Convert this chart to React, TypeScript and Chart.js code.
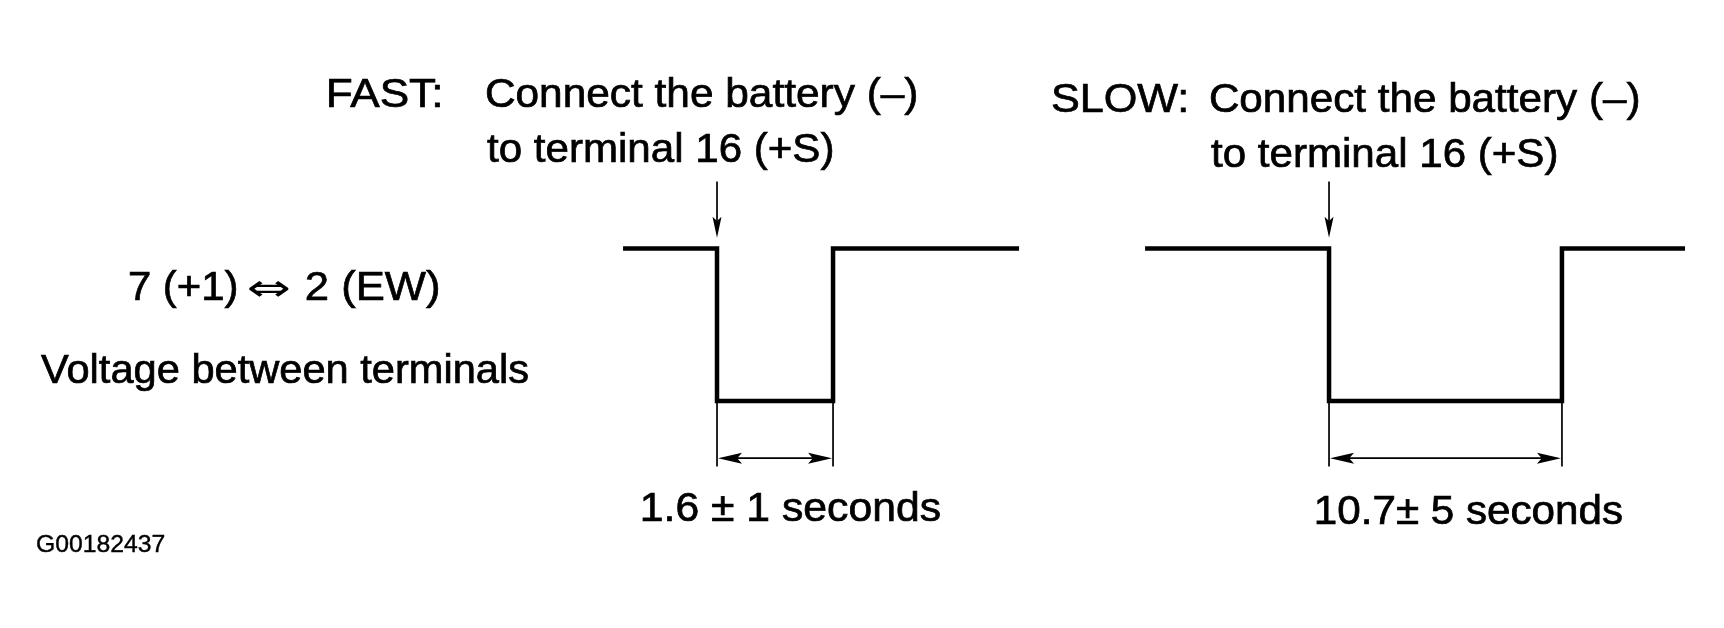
import React, { useEffect, useRef } from "react";
import { Chart, registerables } from "chart.js";

Chart.register(...registerables);

// ---------------- data ----------------
// Horizontal position is expressed in % of the figure width (schematic time axis),
// vertical value is the logic level (1 = high, 0 = low).
const traceNames = ["FAST", "SLOW"];
const fastPos = [36.14, 41.59, 41.59, 48.32, 48.32, 59.11];
const fastLevel = [1, 1, 0, 0, 1, 1];
const slowPos = [66.42, 77.09, 77.09, 90.6, 90.6, 97.74];
const slowLevel = [1, 1, 0, 0, 1, 1];
const durationText = ["1.6 ± 1 seconds", "10.7± 5 seconds"];
const instructionLines = ["Connect the battery (–)", "to terminal 16 (+S)"];
const terminalParts = ["7 (+1)", "⇔", "2 (EW)"];
const measureText = "Voltage between terminals";
const figureId = "G00182437";

// ---------------- layout / style ----------------
const W = 1724;
const H = 628;
const FONT = "'Liberation Sans', Arial, Helvetica, sans-serif";
const SYMBOL_FONT = "'DejaVu Sans', sans-serif";
const Y_MIN = -1.4885;
const Y_MAX = 2.6295;
const POINTER_TOP = 1.44;
const POINTER_TIP = 1.07;
const DIM_ARROW = -0.375;
const DIM_EXT = -0.43;

type TextBox = { t: string; l: number; r: number; b: number; s: number; f?: string; sw?: number };
const textLayout: TextBox[] = [
  { t: traceNames[0] + ":", l: 329, r: 440, b: 107, s: 40 },
  { t: instructionLines[0], l: 487, r: 916, b: 107, s: 40 },
  { t: instructionLines[1], l: 487, r: 832, b: 162, s: 40 },
  { t: traceNames[1] + ":", l: 1052, r: 1186, b: 112, s: 40 },
  { t: instructionLines[0], l: 1211, r: 1638, b: 112, s: 40 },
  { t: instructionLines[1], l: 1211, r: 1556, b: 167, s: 40 },
  { t: terminalParts[0], l: 130, r: 236, b: 300, s: 40 },
  { t: terminalParts[1], l: 248, r: 289, b: 300, s: 36, f: SYMBOL_FONT, sw: 0 },
  { t: terminalParts[2], l: 307, r: 438, b: 300, s: 40 },
  { t: measureText, l: 41, r: 528, b: 383, s: 40 },
  { t: durationText[0], l: 643, r: 940, b: 521, s: 40 },
  { t: durationText[1], l: 1317, r: 1622, b: 524, s: 40 },
  { t: figureId, l: 37, r: 165, b: 552, s: 24 },
];

const traces = [
  { pos: fastPos, level: fastLevel },
  { pos: slowPos, level: slowLevel },
];

function drawFittedText(ctx: CanvasRenderingContext2D, box: TextBox) {
  ctx.save();
  ctx.font = `${box.s}px ${box.f || FONT}`;
  ctx.textAlign = "left";
  ctx.textBaseline = "alphabetic";
  ctx.fillStyle = "#000";
  ctx.strokeStyle = "#000";
  const m = ctx.measureText(box.t);
  const inkL = m.actualBoundingBoxLeft || 0;
  const inkR = m.actualBoundingBoxRight || m.width;
  const inkW = inkL + inkR;
  const sx = inkW > 0 ? (box.r - box.l) / inkW : 1;
  ctx.translate(box.l + inkL * sx, box.b);
  ctx.scale(sx, 1);
  ctx.fillText(box.t, 0, 0);
  const sw = box.sw !== undefined ? box.sw : box.s > 30 ? 0.7 : 0.4;
  if (sw > 0) {
    ctx.lineWidth = sw;
    ctx.strokeText(box.t, 0, 0);
  }
  ctx.restore();
}

function arrowHead(
  ctx: CanvasRenderingContext2D,
  tx: number,
  ty: number,
  dx: number,
  dy: number,
  len: number,
  half: number
) {
  const bx = tx - dx * len;
  const by = ty - dy * len;
  const nx = -dy;
  const ny = dx;
  const notchX = tx - dx * len * 0.8;
  const notchY = ty - dy * len * 0.8;
  ctx.beginPath();
  ctx.moveTo(tx, ty);
  ctx.lineTo(bx + nx * half, by + ny * half);
  ctx.lineTo(notchX, notchY);
  ctx.lineTo(bx - nx * half, by - ny * half);
  ctx.closePath();
  ctx.fill();
}

const annotationPlugin = {
  id: "diagramAnnotations",
  beforeDraw(chart: any) {
    const ctx = chart.ctx as CanvasRenderingContext2D;
    ctx.save();
    ctx.fillStyle = "#fff";
    ctx.fillRect(0, 0, chart.width, chart.height);
    ctx.restore();
  },
  afterDatasetsDraw(chart: any) {
    const ctx = chart.ctx as CanvasRenderingContext2D;
    const xs = chart.scales.x;
    const ys = chart.scales.y;
    ctx.save();
    ctx.strokeStyle = "#000";
    ctx.fillStyle = "#000";
    ctx.lineWidth = 1.7;
    ctx.lineCap = "butt";
    traces.forEach((tr) => {
      const xFall = xs.getPixelForValue(tr.pos[1]);
      const xRise = xs.getPixelForValue(tr.pos[3]);
      const pTop = ys.getPixelForValue(POINTER_TOP);
      const pTip = ys.getPixelForValue(POINTER_TIP);
      ctx.beginPath();
      ctx.moveTo(xFall, pTop);
      ctx.lineTo(xFall, pTip - 10);
      ctx.stroke();
      arrowHead(ctx, xFall, pTip, 0, 1, 21, 4.5);
      const yLow = ys.getPixelForValue(0);
      const yArr = ys.getPixelForValue(DIM_ARROW);
      const yExt = ys.getPixelForValue(DIM_EXT);
      ctx.beginPath();
      ctx.moveTo(xFall, yLow);
      ctx.lineTo(xFall, yExt);
      ctx.moveTo(xRise, yLow);
      ctx.lineTo(xRise, yExt);
      ctx.moveTo(xFall + 10, yArr);
      ctx.lineTo(xRise - 10, yArr);
      ctx.stroke();
      arrowHead(ctx, xFall + 1, yArr, -1, 0, 24, 5.5);
      arrowHead(ctx, xRise - 1, yArr, 1, 0, 24, 5.5);
    });
    ctx.restore();
    textLayout.forEach((b) => drawFittedText(ctx, b));
  },
};

export default function App() {
  const canvasRef = useRef<HTMLCanvasElement | null>(null);

  useEffect(() => {
    const canvas = canvasRef.current;
    if (!canvas) return;
    const datasets = traces.map((tr, i) => ({
      label: traceNames[i],
      data: tr.pos.map((x, k) => ({ x, y: tr.level[k] })),
      borderColor: "#000",
      backgroundColor: "#000",
      borderWidth: 4.5,
      pointRadius: 0,
      pointHoverRadius: 0,
      tension: 0,
      fill: false,
      borderJoinStyle: "miter" as const,
      borderCapStyle: "butt" as const,
      clip: false as any,
    }));
    const chart = new Chart(canvas, {
      type: "line",
      data: { datasets },
      options: {
        animation: false,
        responsive: false,
        maintainAspectRatio: false,
        devicePixelRatio: 1,
        layout: { padding: 0 },
        events: [],
        plugins: {
          legend: { display: false },
          tooltip: { enabled: false },
          title: { display: false },
        },
        scales: {
          x: { type: "linear", min: 0, max: 100, display: false },
          y: { type: "linear", min: Y_MIN, max: Y_MAX, display: false },
        },
      },
      plugins: [annotationPlugin],
    });
    return () => chart.destroy();
  }, []);

  return (
    <div
      style={{
        position: "absolute",
        left: 0,
        top: 0,
        width: W,
        height: H,
        background: "#fff",
      }}
    >
      <canvas ref={canvasRef} width={W} height={H} style={{ width: W, height: H, display: "block" }} />
    </div>
  );
}
